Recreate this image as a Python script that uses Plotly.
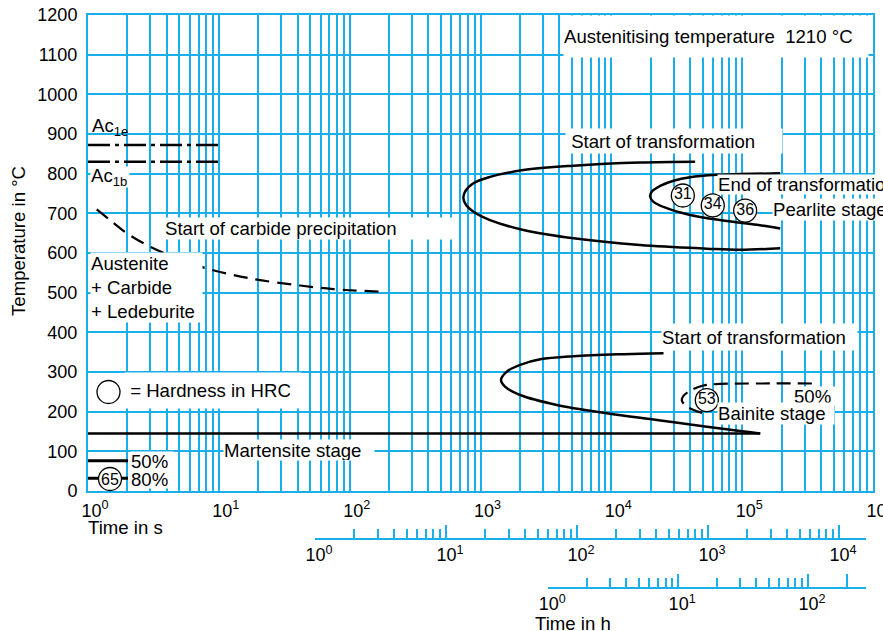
import plotly.graph_objects as go

# ---------------- data ----------------
# times in seconds, temperatures in degC
ac1e_t = [1, 10.3]
ac1e_T = [872, 872]
ac1b_t = [1, 10.3]
ac1b_T = [830, 830]

carbide_t = [1.166, 1.473, 1.977, 2.978, 4.76, 8.08, 17.3, 41.8, 75.1, 186.5]
carbide_T = [710, 683, 650, 616, 587, 561, 536, 518, 509, 502]

pearlite_start_t = [43700, 16600, 5140, 2130, 1183, 883, 762, 740, 776, 883, 1183,
                    2130, 5140, 16600, 53700, 96600, 195400]
pearlite_start_T = [830, 828, 820, 809, 792, 776, 755, 738, 721, 704, 683,
                    658, 637, 620, 611, 608, 612]

pearlite_end_t = [195400, 96600, 64000, 40000, 29900, 23600, 20400, 19800, 21000,
                  26500, 40000, 71900, 129400, 195400]
pearlite_end_T = [801, 799, 797, 791, 782, 769, 755, 742, 729, 713, 696, 682, 671, 662]

bainite_start_t = [25060, 12360, 5140, 2860, 2010, 1590, 1435, 1540, 2010, 3830,
                   9250, 22280, 53700, 96600, 137400]
bainite_start_T = [347, 345, 340, 332, 318, 301, 280, 263, 242, 217, 196, 179, 162, 151, 145]

bainite50_t = [341000, 137400, 67900, 50600, 41200, 35600, 34600, 36600, 42500, 50600]
bainite50_T = [271, 271, 270, 266, 255, 240, 228, 217, 204, 196]

martensite_t = [1, 137400]
martensite_T = [145, 145]

hardness_t = [35200, 59600, 105400, 53700]
hardness_T = [745, 720, 707, 229]
hardness_val = ["31", "34", "36", "53"]

sec_ticks = [1, 10, 100, 1000, 10000, 100000, 1000000]
sec_labels = ["10<sup>0</sup>", "10<sup>1</sup>", "10<sup>2</sup>", "10<sup>3</sup>",
              "10<sup>4</sup>", "10<sup>5</sup>", "10<sup>6</sup>"]
min_ticks = [1, 10, 100, 1000, 10000]
min_labels = ["10<sup>0</sup>", "10<sup>1</sup>", "10<sup>2</sup>", "10<sup>3</sup>", "10<sup>4</sup>"]
hour_ticks = [1, 10, 100, 200]
hour_labels = ["10<sup>0</sup>", "10<sup>1</sup>", "10<sup>2</sup>", ""]
temp_ticks = list(range(0, 1201, 100))

# ---------------- layout helpers ----------------
W, H = 883, 631
ML, MR, MT, MB = 88, 10, 15, 0
PW = W - ML - MR
PH = H - MT - MB
BLUE = "#1aaeea"
FONT = "Liberation Sans, Arial, sans-serif"
FS = 18
AFS = 18.6


def fx(px):
    return (px - ML) / PW


def fy(py):
    return (H - MB - py) / PH


def minors(decades):
    out = []
    for d in decades:
        for k in range(2, 10):
            out.append(k * d)
    return out


fig = go.Figure()

fig.add_trace(go.Scatter(x=ac1e_t, y=ac1e_T, mode="lines",
                         line=dict(color="black", width=2.5, dash="22px,5px,4px,5px")))
fig.add_trace(go.Scatter(x=ac1b_t, y=ac1b_T, mode="lines",
                         line=dict(color="black", width=2.5, dash="22px,5px,4px,5px")))
fig.add_trace(go.Scatter(x=carbide_t, y=carbide_T, mode="lines",
                         line=dict(color="black", width=2.2, dash="14px,8px", shape="spline")))
fig.add_trace(go.Scatter(x=pearlite_start_t, y=pearlite_start_T, mode="lines",
                         line=dict(color="black", width=2.5, shape="spline")))
fig.add_trace(go.Scatter(x=pearlite_end_t, y=pearlite_end_T, mode="lines",
                         line=dict(color="black", width=2.5, shape="spline")))
fig.add_trace(go.Scatter(x=bainite_start_t, y=bainite_start_T, mode="lines",
                         line=dict(color="black", width=2.5, shape="spline")))
fig.add_trace(go.Scatter(x=martensite_t, y=martensite_T, mode="lines",
                         line=dict(color="black", width=2.5)))
fig.add_trace(go.Scatter(x=bainite50_t, y=bainite50_T, mode="lines",
                         line=dict(color="black", width=2.2, dash="14px,7px", shape="spline")))
fig.add_trace(go.Scatter(x=hardness_t, y=hardness_T, mode="markers+text",
                         text=hardness_val, textposition="middle center",
                         textfont=dict(family=FONT, size=16, color="black"),
                         marker=dict(symbol="circle", size=23, color="white",
                                     line=dict(color="black", width=1.3))))
# empty traces so that the minute and hour scales get their own (gridless) subplots
fig.add_trace(go.Scatter(x=[], y=[], xaxis="x2", yaxis="y2", hoverinfo="skip"))
fig.add_trace(go.Scatter(x=[], y=[], xaxis="x3", yaxis="y3", hoverinfo="skip"))

# ---------------- annotations ----------------
ann = []


def box(text, left, top, right, bottom, size=AFS):
    ann.append(dict(text=text, xref="paper", yref="paper", x=fx(left), y=fy((top + bottom) / 2),
                    xanchor="left", yanchor="middle", showarrow=False, align="left",
                    valign="middle", width=right - left, height=bottom - top,
                    bgcolor="white", borderpad=0,
                    font=dict(family=FONT, size=size, color="black")))


def label(text, left, yc, size=AFS, anchor="left", angle=0):
    ann.append(dict(text=text, xref="paper", yref="paper", x=fx(left), y=fy(yc),
                    xanchor=anchor, yanchor="middle", showarrow=False, textangle=angle,
                    font=dict(family=FONT, size=size, color="black")))


box("Austenitising temperature\u00a0\u00a01210 °C", 563, 16, 867, 57)
box("\u00a0Start of transformation", 565, 129, 781, 153)
box("End of transformation", 717, 175, 900, 194)
box("Pearlite stage", 772, 199, 900, 220)
box("Start of carbide precipitation", 164, 218, 453, 239)
box("Austenite<br>+ Carbide<br>+ Ledeburite", 90, 253, 201, 322)
box("\u00a0= Hardness in HRC", 124, 373, 300, 408)
box("Martensite stage", 223, 440, 373, 460)
box("50%", 130, 452, 172, 470)
box("80%", 130, 470, 172, 488)
box("Start of transformation", 661, 324, 856, 350)
box("50%", 793, 387, 836, 405)
box("Bainite stage", 717, 403, 833, 424)
box("Ac<sub>1b</sub>", 90, 167, 128, 187)
label("Ac<sub>1e</sub>", 90, 127)
label("Time in s", 86, 527)
label("Time in h", 533, 623)
label("Temperature in °C", 18, 241, anchor="center", angle=-90)
label("65", 110, 479, size=16, anchor="center")

shapes = [
    dict(type="line", xref="paper", yref="paper", x0=fx(88), x1=fx(128), y0=fy(460.7), y1=fy(460.7),
         line=dict(color="black", width=3), layer="above"),
    dict(type="line", xref="paper", yref="paper", x0=fx(88), x1=fx(128), y0=fy(478.3), y1=fy(478.3),
         line=dict(color="black", width=3), layer="above"),
    dict(type="circle", xref="paper", yref="paper", x0=fx(98.5), x1=fx(121.5), y0=fy(490.5), y1=fy(467.5),
         line=dict(color="black", width=1.3), fillcolor="white", layer="above"),
    dict(type="circle", xref="paper", yref="paper", x0=fx(97), x1=fx(120), y0=fy(403.5), y1=fy(380.5),
         line=dict(color="black", width=1.3), fillcolor="white", layer="above"),
]

tickfont = dict(family=FONT, size=FS, color="black")

fig.update_layout(
    width=W, height=H, template="none",
    margin=dict(l=ML, r=MR, t=MT, b=MB, pad=0),
    paper_bgcolor="white", plot_bgcolor="white",
    showlegend=False,
    font=dict(family=FONT, size=FS, color="black"),
    annotations=ann, shapes=shapes,
    xaxis=dict(type="log", range=[0, 6], domain=[0, 1], anchor="y",
               tickmode="array", tickvals=sec_ticks, ticktext=sec_labels,
               ticks="", showgrid=True, gridcolor=BLUE, gridwidth=2,
               minor=dict(tickmode="array", tickvals=minors([1, 10, 100, 1000, 10000, 100000]),
                          showgrid=True, gridcolor=BLUE, gridwidth=2, ticks=""),
               showline=True, linecolor=BLUE, linewidth=2, mirror=True,
               zeroline=False, tickfont=tickfont, ticklabelshift=7, ticklabelstandoff=2,
               ticklabeloverflow="allow", automargin=False),
    yaxis=dict(range=[0, 1200], domain=[fy(491), fy(15)], anchor="x",
               tickmode="array", tickvals=temp_ticks, ticks="",
               showgrid=True, gridcolor=BLUE, gridwidth=2,
               showline=True, linecolor=BLUE, linewidth=2, mirror=True,
               zeroline=False, tickfont=tickfont, ticklabelstandoff=5, automargin=False),
    xaxis2=dict(type="log", range=[0, 4.206], domain=[fx(315), fx(866)], anchor="y2",
                tickmode="array", tickvals=min_ticks, ticktext=min_labels,
                ticks="inside", ticklen=13, tickwidth=2, tickcolor=BLUE,
                minor=dict(tickmode="array", tickvals=minors([1, 10, 100, 1000]),
                           ticks="inside", ticklen=9, tickwidth=2, tickcolor=BLUE, showgrid=False),
                showgrid=False, showline=True, linecolor=BLUE, linewidth=2, zeroline=False,
                tickfont=tickfont, ticklabelshift=4, ticklabeloverflow="allow", automargin=False),
    yaxis2=dict(domain=[fy(537.7), fy(537.7) + 0.01], anchor="x2", visible=False,
                showgrid=False, range=[0, 1]),
    xaxis3=dict(type="log", range=[0, 2.447], domain=[fx(548.3), fx(866)], anchor="y3",
                tickmode="array", tickvals=hour_ticks, ticktext=hour_labels,
                ticks="inside", ticklen=13, tickwidth=2, tickcolor=BLUE,
                minor=dict(tickmode="array", tickvals=minors([1, 10]),
                           ticks="inside", ticklen=9, tickwidth=2, tickcolor=BLUE, showgrid=False),
                showgrid=False, showline=True, linecolor=BLUE, linewidth=2, zeroline=False,
                tickfont=tickfont, ticklabelshift=4, ticklabeloverflow="allow", automargin=False),
    yaxis3=dict(domain=[fy(586.7), fy(586.7) + 0.01], anchor="x3", visible=False,
                showgrid=False, range=[0, 1]),
)

fig.write_html("out.html", config={"displayModeBar": False},
               post_script="document.body.style.margin='0px';")
